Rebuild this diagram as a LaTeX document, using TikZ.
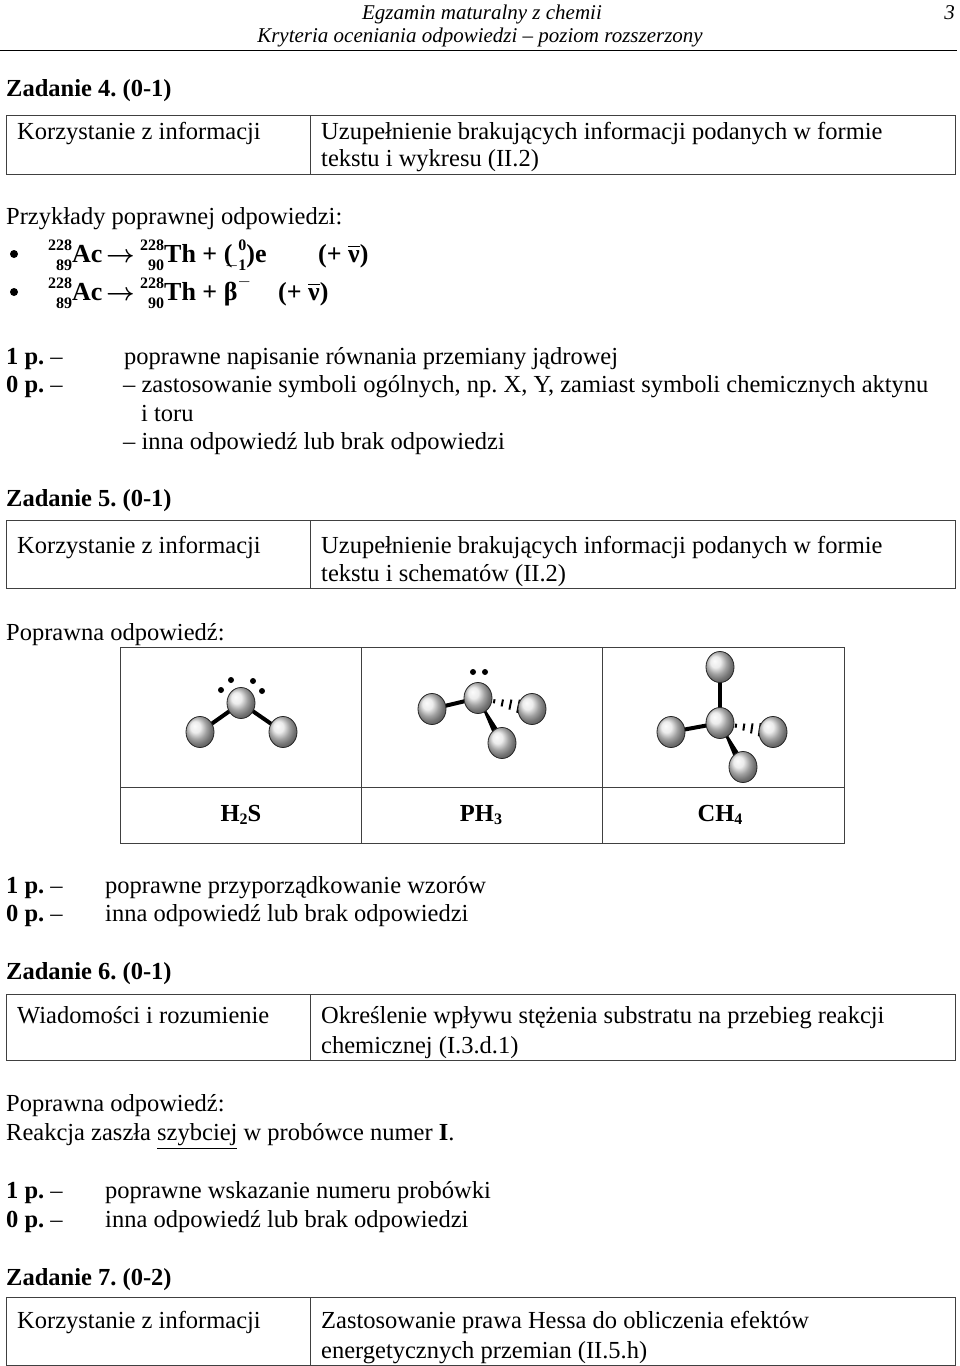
\documentclass[tikz,border=0pt]{standalone}
\usepackage{amsmath}
\usepackage{fontspec}
\setmainfont{Liberation Serif}
\usetikzlibrary{calc,shapes.geometric}
\frenchspacing
\newcommand\nuc[3]{{\setbox0\hbox{\fontsize{16}{16}\selectfont\bfseries #1}\makebox[\wd0][r]{\raisebox{1.0ex}[0pt][0pt]{\fontsize{16}{16}\selectfont\bfseries #1}\llap{\raisebox{-0.75ex}[0pt][0pt]{\fontsize{16}{16}\selectfont\bfseries #2}}}\textbf{#3}}}
\newcommand\antinu{\ensuremath{\overline{\hbox{\bfseries ν}}}}
\begin{document}
\begin{tikzpicture}[x=1pt,y=-1pt,
  txt/.style={anchor=base west,inner sep=0pt,font=\fontsize{24.5}{28}\selectfont},
  eq/.style={anchor=base west,inner sep=0pt,font=\fontsize{26}{28}\selectfont\bfseries},
  hdr/.style={anchor=base,inner sep=0pt,font=\fontsize{21}{24}\selectfont\itshape},
  bx/.style={draw=black!75,line width=1pt},
  atom/.style={shape=ellipse,minimum width=28pt,minimum height=31pt,inner sep=0pt,ball color=gray!20,draw=black!85,line width=0.8pt},
  bond/.style={line width=4pt},
  lp/.style={circle,fill=black,inner sep=0pt,minimum size=6pt},
  bul/.style={circle,fill=black,inner sep=0pt,minimum size=8pt}]
\useasboundingbox (0,0) rectangle (960,1366);
% header
\node[hdr] (h1) at (482,19) {Egzamin maturalny z chemii};
\node[hdr] (h2) at (480,42) {Kryteria oceniania odpowiedzi -- poziom rozszerzony};
\node[hdr,anchor=base east] (pg) at (955,19) {3};
\draw[line width=1pt] (0,50) -- (957,50);
% Zadanie 4
\node[txt] (z4) at (6,96) {\bfseries Zadanie 4. (0-1)};
\draw[bx] (6,115) rectangle (955,174); \draw[bx] (310,115) -- (310,174);
\node[txt] (t4a) at (17,139) {Korzystanie z informacji};
\node[txt] (t4b) at (321,139) {Uzupełnienie brakujących informacji podanych w formie};
\node[txt] (t4c) at (321,166) {tekstu i wykresu (II.2)};
\node[txt] (prz) at (6,224) {Przykłady poprawnej odpowiedzi:};
\node[bul] (b1) at (14,254) {};
\node[bul] (b2) at (14,292) {};
\node[eq] (e1a) at (48,262) {\nuc{228}{89}{Ac}};
\node[eq] (e1r) at (106,262) {$\boldsymbol{\rightarrow}$};
\node[eq] (e1b) at (140,262) {\nuc{228}{90}{Th} + (\makebox[14pt][r]{\raisebox{1.0ex}[0pt][0pt]{\fontsize{16}{16}\selectfont\bfseries 0}\llap{\raisebox{-0.75ex}[0pt][0pt]{\fontsize{16}{16}\selectfont\bfseries $-$1}}})e};
\node[eq] (e1n) at (318,262) {(+ \antinu)};
\node[eq] (e2a) at (48,300) {\nuc{228}{89}{Ac}};
\node[eq] (e2r) at (106,300) {$\boldsymbol{\rightarrow}$};
\node[eq] (e2b) at (140,300) {\nuc{228}{90}{Th} + β\raisebox{1.1ex}{\fontsize{16}{16}\selectfont $-$}};
\node[eq] (e2n) at (278,300) {(+ \antinu)};
\node[txt] (p41) at (6,364) {\textbf{1 p.} --};
\node[txt] (p41t) at (124,364) {poprawne napisanie równania przemiany jądrowej};
\node[txt] (p40) at (6,392) {\textbf{0 p.} --};
\node[txt] (p40a) at (123,392) {-- zastosowanie symboli ogólnych, np. X, Y, zamiast symboli chemicznych aktynu};
\node[txt] (p40b) at (141,421) {i toru};
\node[txt] (p40c) at (123,449) {-- inna odpowiedź lub brak odpowiedzi};
% Zadanie 5
\node[txt] (z5) at (6,506) {\bfseries Zadanie 5. (0-1)};
\draw[bx] (6,520) rectangle (955,588); \draw[bx] (310,520) -- (310,588);
\node[txt] (t5a) at (17,553) {Korzystanie z informacji};
\node[txt] (t5b) at (321,553) {Uzupełnienie brakujących informacji podanych w formie};
\node[txt] (t5c) at (321,581) {tekstu i schematów (II.2)};
\node[txt] (po5) at (6,640) {Poprawna odpowiedź:};
\draw[bx] (120,647) rectangle (844,843);
\draw[bx] (120,787) -- (844,787); \draw[bx] (361,647) -- (361,843); \draw[bx] (602,647) -- (602,843);
\node[anchor=base,inner sep=0pt,font=\fontsize{24.5}{28}\selectfont\bfseries] (l1) at (241,821) {H\raisebox{-0.3ex}{\fontsize{16}{16}\selectfont 2}S};
\node[anchor=base,inner sep=0pt,font=\fontsize{24.5}{28}\selectfont\bfseries] (l2) at (481,821) {PH\raisebox{-0.3ex}{\fontsize{16}{16}\selectfont 3}};
\node[anchor=base,inner sep=0pt,font=\fontsize{24.5}{28}\selectfont\bfseries] (l3) at (720,821) {CH\raisebox{-0.3ex}{\fontsize{16}{16}\selectfont 4}};
% H2S
\coordinate (S) at (241,703); \coordinate (Sa) at (200,732); \coordinate (Sb) at (283,732);
\draw[bond] (S) -- (Sa); \draw[bond] (S) -- (Sb);
\node[atom] (sh1) at (Sa) {}; \node[atom] (sh2) at (Sb) {}; \node[atom] (s) at (S) {};
\node[lp] (d1) at (221,690) {}; \node[lp] (d2) at (231,680) {}; \node[lp] (d3) at (253,681) {}; \node[lp] (d4) at (262,691) {};
% PH3
\coordinate (P) at (478,698); \coordinate (Pa) at (432,709); \coordinate (Pb) at (532,709); \coordinate (Pc) at (502,743);
\draw[bond] (P) -- (Pa);
\fill (P) -- ($(Pc)+(-5,0)$) -- ($(Pc)+(5,0)$) -- cycle;
\foreach \t/\w in {0.3/2,0.45/3.5,0.6/5,0.75/6.5}{\draw[line width=2pt] ($(P)!\t!(Pb)+(\w*0.2,-\w)$) -- ($(P)!\t!(Pb)+(-\w*0.2,\w)$);}
\node[atom] (ph1) at (Pa) {}; \node[atom] (ph2) at (Pb) {}; \node[atom] (ph3) at (Pc) {}; \node[atom] (p) at (P) {};
\node[lp] (d5) at (473,672) {}; \node[lp] (d6) at (485,672) {};
% CH4
\coordinate (C) at (720,723); \coordinate (Ca) at (720,667); \coordinate (Cb) at (671,732); \coordinate (Cc) at (773,732); \coordinate (Cd) at (743,767);
\draw[bond] (C) -- (Ca); \draw[bond] (C) -- (Cb);
\fill (C) -- ($(Cd)+(-5,0)$) -- ($(Cd)+(5,0)$) -- cycle;
\foreach \t/\w in {0.3/2,0.45/3.5,0.6/5,0.75/6.5}{\draw[line width=2pt] ($(C)!\t!(Cc)+(\w*0.15,-\w)$) -- ($(C)!\t!(Cc)+(-\w*0.15,\w)$);}
\node[atom] (ch1) at (Ca) {}; \node[atom] (ch2) at (Cb) {}; \node[atom] (ch3) at (Cc) {}; \node[atom] (ch4) at (Cd) {}; \node[atom] (c) at (C) {};
\node[txt] (p51) at (6,893) {\textbf{1 p.} --};
\node[txt] (p51t) at (105,893) {poprawne przyporządkowanie wzorów};
\node[txt] (p50) at (6,921) {\textbf{0 p.} --};
\node[txt] (p50t) at (105,921) {inna odpowiedź lub brak odpowiedzi};
% Zadanie 6
\node[txt] (z6) at (6,979) {\bfseries Zadanie 6. (0-1)};
\draw[bx] (6,994) rectangle (955,1060); \draw[bx] (310,994) -- (310,1060);
\node[txt] (t6a) at (17,1023) {Wiadomości i rozumienie};
\node[txt] (t6b) at (321,1023) {Określenie wpływu stężenia substratu na przebieg reakcji};
\node[txt] (t6c) at (321,1053) {chemicznej (I.3.d.1)};
\node[txt] (po6) at (6,1111) {Poprawna odpowiedź:};
\node[txt] (r6) at (6,1140) {Reakcja zaszła \underline{szybciej} w probówce numer \textbf{I}.};
\node[txt] (p61) at (6,1198) {\textbf{1 p.} --};
\node[txt] (p61t) at (105,1198) {poprawne wskazanie numeru probówki};
\node[txt] (p60) at (6,1227) {\textbf{0 p.} --};
\node[txt] (p60t) at (105,1227) {inna odpowiedź lub brak odpowiedzi};
% Zadanie 7
\node[txt] (z7) at (6,1285) {\bfseries Zadanie 7. (0-2)};
\draw[bx] (6,1297) rectangle (955,1365); \draw[bx] (310,1297) -- (310,1365);
\node[txt] (t7a) at (17,1328) {Korzystanie z informacji};
\node[txt] (t7b) at (321,1328) {Zastosowanie prawa Hessa do obliczenia efektów};
\node[txt] (t7c) at (321,1358) {energetycznych przemian (II.5.h)};
\end{tikzpicture}
\end{document}
